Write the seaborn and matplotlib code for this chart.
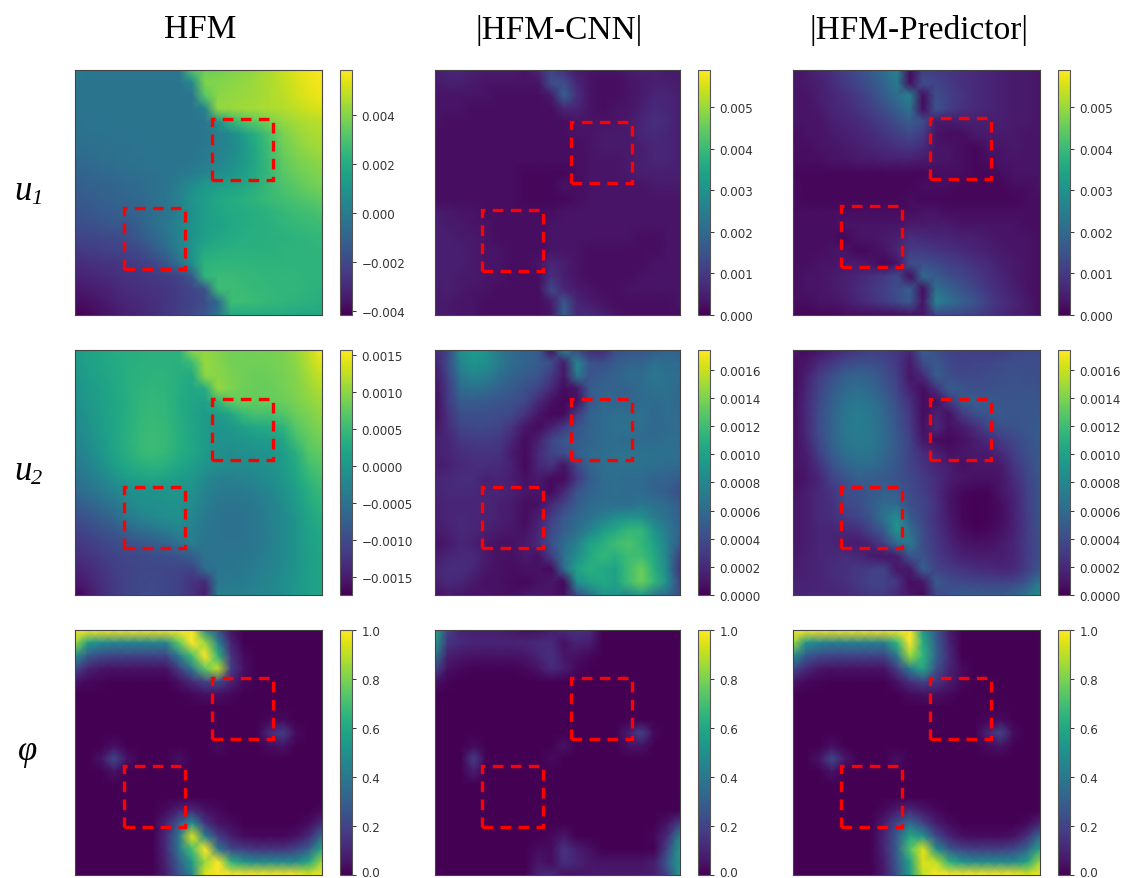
import numpy as np
import matplotlib
matplotlib.use('Agg')
import matplotlib.pyplot as plt
from matplotlib.patches import Rectangle
from matplotlib.transforms import ScaledTranslation
import seaborn as sns

# values on a 20x20 grid
# u1 panels in units of 1e-4, u2 panels in units of 1e-5, phi panels in percent
u1_hfm = [
    [-1, -2, -2, -2, -2, -2, -2, -2, -2, 30, 36, 37, 39, 41, 43, 46, 50, 53, 56, 58],
    [-2, -3, -3, -3, -3, -3, -3, -3, -3, 5, 39, 40, 41, 42, 44, 46, 49, 52, 55, 57],
    [-3, -3, -3, -3, -3, -3, -3, -3, -3, -3, 32, 41, 42, 43, 44, 46, 48, 51, 54, 56],
    [-3, -3, -3, -3, -3, -3, -3, -3, -3, -3, 3, 42, 43, 44, 45, 46, 47, 49, 51, 53],
    [-4, -3, -3, -3, -3, -3, -3, -3, -3, -3, -2, 8, 24, 30, 34, 38, 42, 45, 47, 48],
    [-5, -4, -4, -3, -3, -3, -3, -3, -3, -3, -2, 2, 5, 14, 22, 30, 38, 42, 45, 46],
    [-6, -5, -5, -4, -4, -3, -3, -3, -3, -3, -1, 2, 5, 12, 20, 28, 36, 40, 43, 45],
    [-8, -7, -6, -5, -4, -4, -3, -3, -3, -2, 0, 4, 7, 12, 19, 27, 34, 38, 40, 42],
    [-10, -9, -8, -7, -6, -5, -4, -3, -2, 0, 3, 7, 10, 14, 20, 26, 32, 36, 38, 40],
    [-12, -11, -10, -9, -8, -7, -5, -3, 1, 7, 12, 14, 16, 18, 22, 26, 30, 33, 36, 38],
    [-14, -13, -11, -10, -9, -8, -5, -2, 2, 10, 14, 18, 20, 22, 24, 26, 28, 30, 32, 34],
    [-16, -15, -13, -12, -11, -9, -6, -3, 1, 8, 14, 17, 19, 20, 21, 23, 25, 27, 28, 30],
    [-18, -17, -16, -14, -15, -11, -6, -2, 4, 9, 14, 16, 18, 20, 21, 22, 24, 25, 26, 27],
    [-21, -21, -20, -19, -17, -14, -9, -4, 3, 9, 15, 18, 20, 21, 21, 22, 22, 23, 24, 25],
    [-25, -24, -23, -22, -21, -19, -14, -8, 1, 10, 19, 21, 22, 22, 22, 22, 23, 23, 23, 24],
    [-29, -28, -27, -26, -25, -24, -21, -15, -5, 8, 23, 24, 24, 24, 23, 23, 23, 23, 23, 23],
    [-32, -31, -30, -29, -27, -26, -25, -24, -22, -14, 24, 26, 26, 25, 25, 24, 24, 24, 23, 23],
    [-35, -34, -33, -31, -29, -28, -27, -26, -24, -21, -16, 27, 27, 26, 25, 25, 24, 24, 23, 22],
    [-38, -37, -35, -33, -31, -30, -28, -26, -24, -22, -18, -8, 27, 27, 26, 25, 24, 23, 22, 21],
    [-42, -40, -37, -35, -33, -31, -29, -26, -23, -19, -15, -4, 18, 19, 19, 19, 19, 18, 18, 18],
]
u1_cnn = [
    [5, 6, 6, 5, 4, 4, 4, 3, 6, 12, 8, 4, 3, 3, 3, 4, 5, 5, 4, 4],
    [4, 5, 5, 4, 3, 3, 3, 3, 3, 14, 14, 6, 3, 2, 2, 3, 4, 5, 5, 4],
    [3, 3, 3, 3, 3, 2, 2, 2, 2, 4, 18, 8, 3, 2, 2, 3, 4, 6, 6, 5],
    [3, 3, 3, 2, 2, 2, 2, 2, 2, 2, 6, 6, 3, 2, 3, 3, 5, 7, 6, 5],
    [3, 2, 2, 2, 2, 2, 2, 2, 2, 2, 2, 3, 3, 3, 3, 4, 6, 8, 7, 5],
    [2, 2, 2, 2, 2, 2, 2, 2, 2, 2, 2, 3, 3, 4, 4, 4, 6, 7, 6, 5],
    [2, 2, 2, 2, 2, 2, 2, 2, 2, 2, 2, 2, 3, 4, 4, 4, 5, 6, 6, 5],
    [2, 2, 2, 2, 2, 2, 2, 2, 2, 2, 2, 2, 3, 3, 3, 4, 5, 6, 6, 5],
    [2, 2, 2, 2, 2, 2, 2, 1, 1, 1, 1, 2, 3, 3, 3, 4, 5, 5, 5, 5],
    [2, 2, 2, 2, 2, 2, 2, 1, 1, 1, 3, 2, 3, 3, 3, 3, 3, 4, 4, 4],
    [2, 2, 2, 2, 2, 2, 2, 1, 1, 1, 1, 2, 3, 3, 3, 3, 3, 3, 3, 3],
    [4, 4, 3, 3, 2, 2, 2, 2, 2, 2, 3, 3, 3, 3, 3, 3, 3, 3, 3, 3],
    [5, 4, 4, 3, 3, 2, 2, 2, 2, 3, 3, 3, 3, 3, 3, 3, 3, 3, 3, 3],
    [5, 5, 4, 4, 3, 2, 2, 2, 2, 3, 3, 3, 3, 3, 3, 3, 2, 2, 3, 3],
    [5, 5, 5, 4, 3, 3, 2, 2, 2, 3, 3, 3, 2, 2, 2, 2, 2, 2, 3, 3],
    [5, 5, 5, 4, 3, 3, 2, 2, 3, 6, 5, 3, 2, 2, 2, 2, 2, 3, 3, 3],
    [5, 5, 4, 4, 3, 3, 2, 2, 2, 8, 5, 3, 2, 2, 2, 2, 3, 3, 3, 3],
    [4, 5, 4, 3, 3, 2, 2, 2, 2, 13, 6, 4, 3, 2, 2, 3, 3, 3, 3, 3],
    [4, 4, 3, 3, 2, 2, 2, 2, 2, 4, 16, 6, 4, 3, 2, 2, 2, 2, 2, 3],
    [4, 4, 3, 3, 2, 2, 2, 2, 2, 3, 18, 7, 7, 5, 3, 2, 2, 2, 2, 2],
]
u1_pred = [
    [3, 4, 6, 8, 11, 14, 17, 21, 26, 2, 11, 10, 9, 8, 7, 6, 5, 4, 4, 3],
    [3, 4, 5, 7, 10, 12, 15, 19, 24, 2, 14, 12, 10, 8, 7, 6, 5, 4, 4, 3],
    [3, 3, 5, 6, 8, 10, 13, 17, 21, 26, 2, 14, 11, 9, 7, 6, 5, 4, 4, 3],
    [3, 3, 4, 6, 7, 9, 11, 14, 18, 22, 2, 15, 11, 8, 7, 6, 5, 4, 4, 3],
    [3, 3, 3, 5, 6, 7, 9, 11, 14, 17, 14, 4, 4, 5, 5, 5, 5, 4, 4, 3],
    [2, 3, 3, 4, 5, 6, 7, 9, 11, 13, 10, 3, 2, 2, 4, 4, 4, 4, 3, 3],
    [2, 2, 3, 3, 4, 5, 6, 7, 8, 9, 7, 3, 3, 2, 1, 3, 3, 4, 3, 3],
    [2, 2, 2, 3, 3, 4, 4, 5, 5, 5, 4, 3, 3, 2, 1, 2, 3, 3, 3, 3],
    [1, 1, 1, 1, 1, 1, 1, 1, 1, 1, 1, 2, 2, 2, 1, 1, 2, 3, 3, 3],
    [2, 1, 1, 1, 1, 1, 1, 1, 1, 1, 2, 2, 2, 1, 1, 1, 1, 2, 2, 3],
    [2, 1, 1, 1, 1, 1, 1, 1, 1, 2, 1, 1, 1, 1, 1, 1, 1, 1, 2, 2],
    [2, 2, 2, 2, 2, 2, 2, 2, 2, 2, 3, 3, 2, 2, 2, 2, 2, 2, 2, 2],
    [2, 2, 2, 2, 3, 3, 3, 3, 3, 4, 4, 4, 4, 3, 3, 3, 3, 3, 2, 2],
    [2, 2, 2, 2, 1, 3, 3, 4, 5, 8, 7, 6, 6, 5, 5, 4, 3, 3, 3, 2],
    [2, 2, 2, 3, 3, 1, 2, 3, 6, 10, 10, 9, 8, 7, 6, 5, 4, 3, 3, 2],
    [2, 2, 3, 3, 4, 4, 3, 1, 3, 14, 14, 13, 11, 10, 8, 7, 5, 4, 3, 2],
    [2, 3, 3, 4, 5, 6, 8, 10, 13, 2, 20, 17, 14, 12, 10, 8, 6, 4, 3, 2],
    [2, 3, 3, 4, 5, 7, 9, 11, 14, 17, 2, 22, 18, 15, 12, 9, 7, 5, 3, 2],
    [2, 2, 3, 3, 4, 6, 8, 10, 13, 16, 3, 26, 22, 18, 15, 11, 8, 6, 4, 2],
    [1, 1, 1, 1, 2, 2, 2, 2, 2, 3, 3, 12, 12, 12, 11, 9, 7, 5, 4, 2],
]
u2_hfm = [
    [8, 18, 24, 30, 34, 36, 38, 38, 38, 100, 105, 95, 88, 86, 86, 88, 92, 105, 125, 155],
    [4, 14, 22, 28, 33, 36, 38, 38, 36, 50, 105, 96, 88, 85, 85, 86, 90, 100, 120, 142],
    [0, 10, 18, 26, 33, 38, 40, 40, 34, 26, 100, 100, 90, 85, 82, 84, 88, 96, 112, 130],
    [-6, 6, 15, 24, 33, 40, 42, 40, 32, 22, 30, 105, 92, 84, 80, 82, 86, 94, 106, 120],
    [-10, 2, 12, 22, 32, 42, 46, 42, 30, 20, 16, 45, 75, 80, 78, 80, 82, 90, 100, 110],
    [-15, -2, 10, 22, 34, 44, 48, 44, 32, 18, 8, 6, 22, 50, 60, 58, 66, 82, 92, 102],
    [-20, -6, 8, 22, 35, 46, 50, 46, 34, 20, 6, -4, 2, 15, 25, 28, 40, 70, 84, 94],
    [-25, -12, 4, 20, 36, 48, 52, 48, 34, 20, 6, -6, -6, 0, 5, 8, 20, 55, 76, 86],
    [-32, -20, -2, 18, 34, 46, 52, 46, 32, 22, 8, -8, -14, -10, -6, -2, 8, 34, 68, 78],
    [-40, -28, -10, 8, 24, 34, 38, 34, 22, 10, -4, -12, -16, -16, -12, -6, 6, 26, 55, 70],
    [-50, -40, -25, -8, 8, 16, 20, 16, 8, 2, -18, -30, -32, -28, -20, -12, 0, 20, 44, 60],
    [-62, -52, -40, -25, -15, -6, -4, -2, -2, -8, -28, -38, -40, -38, -32, -22, -8, 10, 34, 50],
    [-80, -70, -58, -45, -22, -12, -10, -8, -4, -14, -32, -44, -46, -44, -38, -28, -14, 6, 26, 42],
    [-95, -88, -76, -64, -42, -28, -18, -12, -10, -24, -40, -48, -50, -48, -42, -30, -18, 0, 20, 34],
    [-110, -102, -92, -84, -70, -56, -46, -36, -24, -30, -44, -48, -50, -48, -42, -32, -18, -2, 16, 28],
    [-120, -114, -106, -98, -92, -86, -78, -68, -52, -34, -46, -48, -48, -46, -42, -32, -18, -2, 14, 24],
    [-132, -124, -116, -108, -104, -102, -98, -94, -88, -76, -46, -46, -46, -44, -38, -30, -18, -4, 12, 22],
    [-142, -134, -124, -114, -108, -104, -104, -104, -106, -110, -60, -44, -44, -40, -34, -26, -16, -2, 12, 20],
    [-155, -144, -130, -118, -108, -102, -100, -104, -110, -125, -135, -44, -40, -36, -30, -22, -12, 0, 12, 20],
    [-174, -155, -135, -120, -108, -100, -98, -102, -110, -125, -150, -30, -30, -28, -24, -18, -10, 2, 14, 20],
]
u2_cnn = [
    [20, 35, 85, 95, 90, 70, 60, 55, 50, 8, 80, 40, 20, 20, 40, 45, 45, 50, 55, 55],
    [15, 40, 80, 90, 85, 72, 60, 55, 50, 40, 12, 80, 45, 42, 50, 55, 55, 65, 60, 60],
    [10, 35, 70, 80, 75, 62, 55, 50, 45, 30, 10, 70, 45, 50, 55, 60, 60, 70, 65, 62],
    [8, 30, 60, 65, 60, 55, 48, 42, 35, 20, 5, 10, 50, 55, 55, 55, 60, 65, 65, 60],
    [5, 30, 50, 50, 48, 45, 42, 38, 20, 8, 3, 8, 45, 58, 55, 55, 60, 60, 62, 58],
    [5, 25, 42, 42, 42, 40, 38, 25, 10, 3, 5, 30, 55, 60, 62, 62, 65, 58, 62, 60],
    [10, 22, 35, 38, 38, 35, 25, 10, 5, 15, 30, 45, 55, 60, 65, 65, 62, 58, 60, 62],
    [15, 18, 28, 30, 30, 28, 18, 5, 15, 35, 48, 50, 55, 60, 62, 60, 60, 60, 62, 62],
    [15, 18, 22, 25, 25, 25, 12, 5, 20, 35, 40, 52, 60, 62, 65, 65, 65, 65, 65, 62],
    [12, 15, 20, 22, 22, 20, 15, 4, 18, 25, 8, 35, 55, 62, 65, 65, 65, 62, 60, 60],
    [18, 20, 22, 22, 15, 18, 14, 8, 12, 5, 5, 28, 50, 60, 62, 60, 60, 55, 55, 50],
    [18, 20, 20, 20, 18, 18, 16, 10, 10, 5, 20, 45, 55, 60, 62, 60, 60, 55, 50, 42],
    [15, 18, 18, 18, 18, 15, 12, 6, 8, 20, 35, 50, 60, 62, 62, 62, 68, 65, 60, 50],
    [15, 18, 20, 18, 18, 15, 12, 6, 15, 30, 48, 58, 65, 75, 85, 90, 88, 72, 65, 52],
    [12, 15, 20, 18, 15, 12, 10, 8, 18, 38, 52, 62, 78, 95, 105, 115, 115, 90, 72, 55],
    [8, 12, 18, 15, 10, 8, 8, 12, 20, 42, 60, 75, 100, 110, 120, 125, 115, 100, 75, 50],
    [12, 18, 20, 20, 12, 8, 8, 12, 8, 30, 65, 85, 105, 115, 110, 120, 120, 105, 78, 30],
    [18, 22, 22, 18, 10, 8, 6, 8, 8, 5, 60, 100, 110, 105, 100, 120, 135, 110, 80, 25],
    [15, 20, 18, 12, 8, 8, 5, 4, 8, 10, 4, 85, 100, 105, 100, 120, 135, 115, 85, 35],
    [8, 12, 10, 8, 10, 8, 6, 10, 12, 10, 6, 40, 65, 90, 90, 80, 95, 70, 60, 40],
]
u2_pred = [
    [10, 5, 10, 15, 22, 28, 32, 30, 28, 18, 50, 42, 34, 32, 32, 30, 30, 35, 38, 38],
    [6, 10, 20, 28, 38, 42, 42, 38, 28, 12, 40, 48, 38, 34, 36, 36, 40, 42, 40, 40],
    [4, 15, 30, 42, 52, 55, 52, 44, 32, 10, 20, 52, 42, 38, 38, 40, 42, 44, 42, 42],
    [4, 18, 35, 48, 58, 62, 58, 48, 35, 16, 6, 24, 50, 45, 42, 42, 44, 44, 44, 44],
    [5, 20, 38, 52, 65, 70, 65, 55, 40, 24, 6, 6, 26, 48, 50, 48, 46, 46, 46, 46],
    [5, 20, 40, 55, 68, 74, 68, 58, 44, 28, 6, 16, 8, 28, 42, 46, 48, 46, 46, 48],
    [5, 20, 40, 55, 70, 74, 70, 60, 46, 30, 8, 20, 8, 12, 22, 36, 42, 44, 46, 50],
    [6, 18, 38, 55, 68, 72, 70, 60, 48, 34, 10, 6, 4, 8, 14, 20, 30, 38, 44, 50],
    [8, 14, 32, 50, 62, 68, 66, 58, 48, 34, 22, 16, 8, 10, 12, 12, 20, 32, 42, 48],
    [8, 12, 24, 42, 55, 60, 60, 54, 46, 35, 26, 18, 14, 8, 10, 10, 12, 26, 38, 48],
    [6, 10, 18, 34, 44, 52, 50, 48, 44, 38, 30, 22, 14, 10, 8, 8, 10, 22, 36, 46],
    [8, 14, 20, 26, 40, 42, 48, 52, 50, 40, 32, 22, 10, 4, 2, 2, 10, 18, 32, 46],
    [10, 14, 20, 24, 38, 40, 50, 60, 60, 42, 36, 25, 10, 3, 1, 2, 6, 16, 32, 46],
    [10, 14, 20, 22, 30, 36, 45, 66, 85, 50, 36, 24, 12, 3, 0, 2, 6, 16, 30, 46],
    [10, 14, 18, 18, 20, 22, 35, 50, 90, 62, 40, 26, 14, 6, 2, 4, 8, 16, 30, 44],
    [10, 14, 18, 18, 14, 12, 18, 32, 60, 72, 40, 28, 18, 10, 8, 8, 12, 18, 30, 42],
    [12, 15, 18, 20, 22, 20, 12, 10, 14, 45, 45, 30, 22, 16, 14, 14, 14, 18, 30, 42],
    [14, 16, 18, 22, 24, 28, 32, 34, 10, 12, 52, 36, 30, 26, 22, 20, 18, 20, 32, 45],
    [16, 16, 18, 20, 24, 28, 34, 34, 26, 6, 10, 48, 40, 38, 36, 34, 34, 36, 45, 70],
    [18, 18, 18, 18, 20, 24, 28, 30, 20, 10, 4, 38, 45, 50, 50, 50, 50, 55, 70, 85],
]
phi_hfm = [
    [100, 100, 100, 100, 100, 100, 100, 100, 100, 100, 50, 25, 5, 0, 0, 0, 0, 0, 0, 0],
    [85, 55, 48, 45, 45, 45, 45, 45, 75, 100, 85, 45, 10, 0, 0, 0, 0, 0, 0, 0],
    [50, 28, 22, 20, 20, 20, 20, 20, 42, 70, 100, 65, 15, 3, 0, 0, 0, 0, 0, 0],
    [22, 10, 6, 5, 5, 5, 5, 5, 18, 40, 75, 90, 18, 4, 0, 0, 0, 0, 0, 0],
    [5, 2, 1, 0, 0, 0, 0, 0, 4, 12, 20, 22, 10, 2, 0, 0, 0, 0, 0, 0],
    [0, 0, 0, 0, 0, 0, 0, 0, 0, 2, 4, 4, 2, 0, 0, 0, 0, 0, 0, 0],
    [0, 0, 0, 0, 0, 0, 0, 0, 0, 0, 0, 0, 0, 0, 0, 0, 0, 0, 0, 0],
    [0, 0, 0, 0, 0, 0, 0, 0, 0, 0, 0, 0, 0, 0, 0, 2, 3, 0, 0, 0],
    [0, 0, 0, 0, 0, 0, 0, 0, 0, 0, 0, 0, 0, 0, 0, 12, 18, 3, 0, 0],
    [0, 0, 0, 4, 0, 0, 0, 0, 0, 0, 0, 3, 0, 0, 0, 3, 5, 0, 0, 0],
    [0, 0, 5, 22, 5, 0, 0, 0, 4, 0, 0, 0, 0, 0, 0, 0, 0, 0, 0, 0],
    [0, 0, 0, 5, 0, 0, 0, 0, 0, 0, 0, 0, 0, 0, 0, 0, 0, 0, 0, 0],
    [0, 0, 0, 0, 0, 0, 0, 0, 0, 0, 0, 0, 0, 0, 0, 0, 0, 0, 0, 0],
    [0, 0, 0, 0, 0, 0, 0, 0, 0, 0, 0, 0, 0, 0, 0, 0, 0, 0, 0, 0],
    [0, 0, 0, 0, 0, 0, 0, 3, 10, 12, 5, 2, 0, 0, 0, 0, 0, 0, 0, 2],
    [0, 0, 0, 0, 0, 0, 0, 10, 28, 50, 15, 5, 3, 0, 0, 0, 0, 0, 3, 12],
    [0, 0, 0, 0, 0, 0, 0, 12, 40, 95, 45, 18, 8, 3, 2, 2, 2, 4, 12, 35],
    [0, 0, 0, 0, 0, 0, 0, 12, 40, 70, 100, 40, 22, 18, 15, 15, 15, 20, 30, 60],
    [0, 0, 0, 0, 0, 0, 0, 10, 30, 55, 85, 100, 65, 52, 48, 48, 48, 48, 60, 85],
    [0, 0, 0, 0, 0, 0, 0, 8, 25, 45, 95, 100, 100, 100, 100, 100, 100, 100, 95, 100],
]
phi_cnn = [
    [60, 18, 10, 8, 8, 8, 6, 4, 4, 8, 12, 14, 12, 0, 0, 0, 0, 0, 0, 0],
    [55, 15, 12, 10, 10, 10, 10, 10, 12, 12, 4, 10, 8, 0, 0, 0, 0, 0, 0, 0],
    [40, 8, 6, 5, 5, 5, 5, 6, 10, 14, 6, 4, 2, 0, 0, 0, 0, 0, 0, 0],
    [20, 4, 2, 1, 1, 1, 1, 2, 5, 12, 8, 2, 0, 0, 0, 0, 0, 0, 0, 0],
    [5, 1, 0, 0, 0, 0, 0, 0, 0, 0, 0, 0, 0, 0, 0, 0, 0, 0, 0, 0],
    [0, 0, 0, 0, 0, 0, 0, 0, 0, 0, 0, 0, 0, 0, 0, 0, 0, 0, 0, 0],
    [0, 0, 0, 0, 0, 0, 0, 0, 0, 0, 0, 0, 0, 0, 0, 0, 0, 0, 0, 0],
    [0, 0, 0, 0, 0, 0, 0, 0, 0, 0, 0, 0, 0, 0, 0, 0, 0, 0, 0, 0],
    [0, 0, 0, 0, 0, 0, 0, 0, 0, 0, 0, 0, 0, 0, 0, 8, 20, 2, 0, 0],
    [0, 0, 0, 3, 0, 0, 0, 0, 0, 0, 5, 0, 0, 0, 0, 4, 5, 0, 0, 0],
    [0, 0, 0, 18, 0, 0, 0, 0, 0, 3, 0, 0, 0, 0, 0, 0, 0, 0, 0, 0],
    [0, 0, 0, 8, 0, 0, 0, 0, 0, 0, 0, 0, 0, 0, 0, 0, 0, 0, 0, 0],
    [0, 0, 0, 0, 0, 0, 0, 0, 0, 0, 0, 0, 0, 0, 0, 0, 0, 0, 0, 0],
    [0, 0, 0, 0, 0, 0, 0, 0, 0, 0, 0, 0, 0, 0, 0, 0, 0, 0, 0, 0],
    [0, 0, 0, 0, 0, 0, 0, 0, 0, 0, 0, 0, 0, 0, 0, 0, 0, 0, 0, 0],
    [0, 0, 0, 0, 0, 0, 0, 0, 0, 0, 0, 0, 0, 0, 0, 0, 0, 0, 5, 18],
    [0, 0, 0, 0, 0, 0, 0, 0, 0, 2, 6, 0, 0, 0, 0, 0, 0, 2, 12, 45],
    [0, 0, 0, 0, 0, 0, 0, 0, 3, 3, 15, 8, 4, 0, 0, 0, 0, 0, 20, 55],
    [0, 0, 0, 0, 0, 0, 0, 0, 6, 3, 14, 10, 6, 5, 5, 5, 5, 8, 28, 55],
    [0, 0, 0, 0, 0, 0, 0, 0, 10, 12, 4, 5, 6, 7, 7, 7, 7, 8, 20, 55],
]
phi_pred = [
    [100, 100, 100, 100, 100, 100, 100, 100, 100, 100, 55, 28, 8, 0, 0, 0, 0, 0, 0, 0],
    [85, 50, 45, 42, 42, 42, 42, 42, 65, 100, 62, 30, 10, 0, 0, 0, 0, 0, 0, 0],
    [50, 28, 22, 20, 20, 20, 20, 20, 40, 85, 65, 32, 12, 0, 0, 0, 0, 0, 0, 0],
    [22, 12, 6, 5, 5, 5, 5, 5, 18, 42, 60, 25, 10, 3, 0, 0, 0, 0, 0, 0],
    [6, 2, 1, 0, 0, 0, 0, 0, 5, 14, 20, 15, 8, 2, 0, 0, 0, 0, 0, 0],
    [0, 0, 0, 0, 0, 0, 0, 0, 0, 3, 4, 4, 2, 0, 0, 0, 0, 0, 0, 0],
    [0, 0, 0, 0, 0, 0, 0, 0, 0, 0, 0, 0, 0, 0, 0, 0, 0, 0, 0, 0],
    [0, 0, 0, 0, 0, 0, 0, 0, 0, 0, 0, 0, 0, 0, 0, 2, 3, 0, 0, 0],
    [0, 0, 0, 0, 0, 0, 0, 0, 0, 0, 0, 0, 0, 0, 0, 10, 20, 3, 0, 0],
    [0, 0, 0, 4, 0, 0, 0, 0, 0, 0, 0, 0, 0, 0, 0, 3, 5, 0, 0, 0],
    [0, 0, 5, 22, 6, 0, 0, 0, 4, 0, 0, 0, 0, 0, 0, 0, 0, 0, 0, 0],
    [0, 0, 0, 5, 0, 0, 0, 0, 0, 0, 0, 0, 0, 0, 0, 0, 0, 0, 0, 0],
    [0, 0, 0, 0, 0, 0, 0, 0, 0, 0, 0, 0, 0, 0, 0, 0, 0, 0, 0, 0],
    [0, 0, 0, 0, 0, 0, 0, 0, 0, 0, 0, 0, 0, 0, 0, 0, 0, 0, 0, 0],
    [0, 0, 0, 0, 0, 0, 0, 2, 8, 12, 6, 2, 0, 0, 0, 0, 0, 0, 0, 0],
    [0, 0, 0, 0, 0, 0, 0, 8, 22, 35, 20, 8, 3, 0, 0, 0, 0, 0, 2, 10],
    [0, 0, 0, 0, 0, 0, 0, 10, 28, 60, 50, 22, 10, 4, 3, 3, 3, 5, 14, 35],
    [0, 0, 0, 0, 0, 0, 0, 10, 30, 72, 95, 50, 28, 20, 18, 18, 18, 22, 32, 60],
    [0, 0, 0, 0, 0, 0, 0, 8, 28, 58, 95, 90, 65, 52, 48, 48, 48, 48, 58, 85],
    [0, 0, 0, 0, 0, 0, 0, 7, 25, 55, 90, 100, 100, 100, 100, 100, 100, 100, 95, 100],
]

col_titles = ['HFM', '|HFM-CNN|', '|HFM-Predictor|']
row_letters = ['u', 'u', '\u03c6']
row_subs = ['1', '2', '']

fields = [[u1_hfm, u1_cnn, u1_pred], [u2_hfm, u2_cnn, u2_pred], [phi_hfm, phi_cnn, phi_pred]]
scales = [1e-4, 1e-5, 1e-2]
limits = [[(-0.00416, 0.00584), (0, 0.00589), (0, 0.00589)],
          [(-0.00174, 0.00157), (0, 0.00174), (0, 0.00174)],
          [(0, 1), (0, 1), (0, 1)]]
ticks = [[[-0.004, -0.002, 0, 0.002, 0.004], [0, 0.001, 0.002, 0.003, 0.004, 0.005], [0, 0.001, 0.002, 0.003, 0.004, 0.005]],
         [[-0.0015, -0.001, -0.0005, 0, 0.0005, 0.001, 0.0015],
          [0, 0.0002, 0.0004, 0.0006, 0.0008, 0.001, 0.0012, 0.0014, 0.0016],
          [0, 0.0002, 0.0004, 0.0006, 0.0008, 0.001, 0.0012, 0.0014, 0.0016]],
         [[0, 0.2, 0.4, 0.6, 0.8, 1], [0, 0.2, 0.4, 0.6, 0.8, 1], [0, 0.2, 0.4, 0.6, 0.8, 1]]]
tick_fmt = ['%.3f', '%.4f', '%.1f']

W, H = 1121, 879
panel_x = [(75, 322), (435, 680), (793, 1040)]
panel_y = [(71, 316), (351, 596), (631, 876)]
cbar_x = [(340, 352), (698, 710), (1058, 1070)]
# upper and lower dashed box: left, top in pixels
boxes = [[[(212, 120), (124, 209)], [(571, 123), (482, 211)], [(930, 119), (841, 207)]],
         [[(212, 400), (124, 488)], [(571, 400), (482, 488)], [(930, 400), (841, 488)]],
         [[(212, 679), (124, 767)], [(571, 679), (482, 767)], [(930, 679), (841, 767)]]]

fig = plt.figure(figsize=(W / 100, H / 100), dpi=100)


def px_axes(xr, yr):
    return fig.add_axes([xr[0] / W, 1 - yr[1] / H, (xr[1] - xr[0]) / W, (yr[1] - yr[0]) / H])


for i in range(3):
    for j in range(3):
        ax = px_axes(panel_x[j], panel_y[i])
        cax = px_axes(cbar_x[j], panel_y[i])
        data = np.array(fields[i][j]) * scales[i]
        # gouraud gives the smooth look of the original fields
        sns.heatmap(data, ax=ax, cbar_ax=cax, cmap='viridis', vmin=limits[i][j][0], vmax=limits[i][j][1],
                    xticklabels=False, yticklabels=False, shading='gouraud')
        ax.set_xlim(0, data.shape[1] - 1)
        ax.set_ylim(data.shape[0] - 1, 0)
        for s in ax.spines.values():
            s.set_visible(True)
            s.set_color('#444444')
            s.set_linewidth(0.8)
        cbar = ax.collections[0].colorbar
        cbar.set_ticks(ticks[i][j])
        cbar.set_ticklabels([(tick_fmt[i] % t).replace('-', '\u2212') for t in ticks[i][j]])
        cax.tick_params(labelsize=8.6, length=3, width=0.7, labelcolor='#333333', color='#333333', pad=4)
        cbar.outline.set_visible(True)
        cbar.outline.set_edgecolor('#555555')
        cbar.outline.set_linewidth(0.8)
        if i == 2:
            # keep the bottom label inside the figure
            low = cax.get_yticklabels()[0]
            low.set_transform(low.get_transform() + ScaledTranslation(0, 3 / 72, fig.dpi_scale_trans))
        for left, top in boxes[i][j]:
            fig.add_artist(Rectangle((left / W, 1 - (top + 61) / H), 61 / W, 61 / H, transform=fig.transFigure,
                                     fill=False, ec='red', lw=2.4, ls=(0, (3.2, 2.2))))

title_x = [200, 559, 919]
for x, t in zip(title_x, col_titles):
    fig.text(x / W, 1 - 30 / H, t, ha='center', va='center', family='Liberation Serif', fontsize=24, color='black')
label_y = [200, 480, 760]
for y, t, s in zip(label_y, row_letters, row_subs):
    fig.text(14 / W if s else 18 / W, 1 - y / H, t, ha='left', va='baseline', family='Liberation Serif',
             style='italic', fontsize=25, color='black')
    if s:
        fig.text(31 / W, 1 - (y + 4) / H, s, ha='left', va='baseline', family='Liberation Serif',
                 style='italic', fontsize=16, color='black')

fig.savefig('out.png', dpi=100)
